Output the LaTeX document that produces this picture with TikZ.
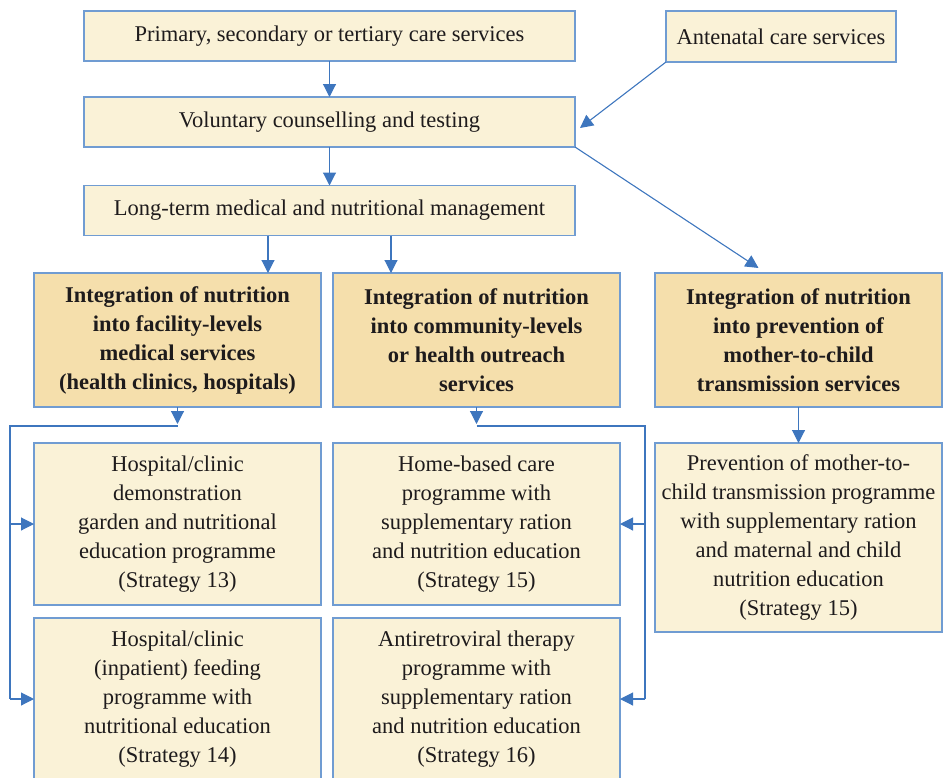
\documentclass[tikz,border=0pt]{standalone}
\usepackage{fontspec}
\setmainfont{Liberation Serif}
\usetikzlibrary{arrows.meta,calc}
\definecolor{cream}{RGB}{250,242,215}
\definecolor{tan}{RGB}{245,223,172}
\definecolor{edge}{RGB}{112,156,210}
\definecolor{arrowblue}{RGB}{62,118,190}
\definecolor{ink}{RGB}{30,27,28}

\begin{document}
\begin{tikzpicture}[x=1pt,y=-1pt,
  box/.style={draw=edge,line width=1.3pt,fill=cream,text=ink,align=center,inner sep=2pt,outer sep=0pt,
    font=\fontsize{22.5}{29}\selectfont},
  topbox/.style={box,minimum width=491pt,minimum height=50pt},
  headbox/.style={box,fill=tan,font=\bfseries\fontsize{22.5}{29}\selectfont,minimum width=287pt,minimum height=134pt},
  progbox/.style={box,minimum width=287pt,minimum height=162pt},
  arr/.style={draw=arrowblue,line width=1.1pt,-{Triangle[width=13pt,length=13pt]}},
  rail/.style={draw=arrowblue,line width=1.1pt}]
\useasboundingbox (0,0) rectangle (943,777);

% entry services
\node[topbox] (prim) at (329.5,36) {Primary, secondary or tertiary care services};
\node[topbox] (vct) at (329.5,122) {Voluntary counselling and testing};
\node[topbox] (lt) at (329.5,210.5) {Long-term medical and nutritional management};
\node[box,minimum width=230pt,minimum height=51pt] (ante) at (781,36.5) {Antenatal care services};

% integration levels
\node[headbox] (intA) at (177.5,340) {Integration of nutrition\\into facility-levels\\medical services\\(health clinics, hospitals)};
\node[headbox] (intB) at (476.5,340) {Integration of nutrition\\into community-levels\\or health outreach\\services};
\node[headbox] (intC) at (798.5,340) {Integration of nutrition\\into prevention of\\mother-to-child\\transmission services};

% programmes
\node[progbox] (hosp1) at (177.5,524) {Hospital/clinic\\demonstration\\garden and nutritional\\education programme\\(Strategy 13)};
\node[progbox] (hosp2) at (177.5,699) {Hospital/clinic\\(inpatient) feeding\\programme with\\nutritional education\\(Strategy 14)};
\node[progbox] (home) at (476.5,524) {Home-based care\\programme with\\supplementary ration\\and nutrition education\\(Strategy 15)};
\node[progbox] (art) at (476.5,699) {Antiretroviral therapy\\programme with\\supplementary ration\\and nutrition education\\(Strategy 16)};
\node[progbox,minimum height=189pt] (pmtct) at (798.5,537.5) {Prevention of mother-to-\\child transmission programme\\with supplementary ration\\and maternal and child\\nutrition education\\(Strategy 15)};

% arrows
\draw[arr] (prim) -- (vct);
\draw[arr] (vct) -- (lt);
\draw[arr] (ante.south west) -- ([xshift=5pt,yshift=-6pt]vct.east);
\draw[arr] (vct.south east) -- ([xshift=-40pt,yshift=5pt]intC.north);
\draw[arr] ([xshift=-61.5pt]lt.south) -- ([xshift=-61.5pt]lt.south |- intA.north);
\draw[arr] ([xshift=61.5pt]lt.south) -- ([xshift=61.5pt]lt.south |- intB.north);
\draw[arr] (intC) -- (pmtct);

% branching rails
\coordinate (jA) at ([yshift=-19pt]intA.south);
\coordinate (jB) at ([yshift=-19pt]intB.south);
\coordinate (railA) at ([xshift=-24pt]hosp1.west |- jA);
\coordinate (railB) at ([xshift=25pt]home.east |- jB);
\draw[arr] (intA.south) -- ([yshift=2pt]jA);
\draw[arr] (intB.south) -- ([yshift=2pt]jB);
\draw[rail] (jA) -- (railA) -- (railA |- hosp2.west);
\draw[rail] (jB) -- (railB) -- (railB |- art.east);
\draw[arr] (railA |- hosp1.west) -- (hosp1.west);
\draw[arr] (railA |- hosp2.west) -- (hosp2.west);
\draw[arr] (railB |- home.east) -- (home.east);
\draw[arr] (railB |- art.east) -- (art.east);
\end{tikzpicture}
\end{document}
